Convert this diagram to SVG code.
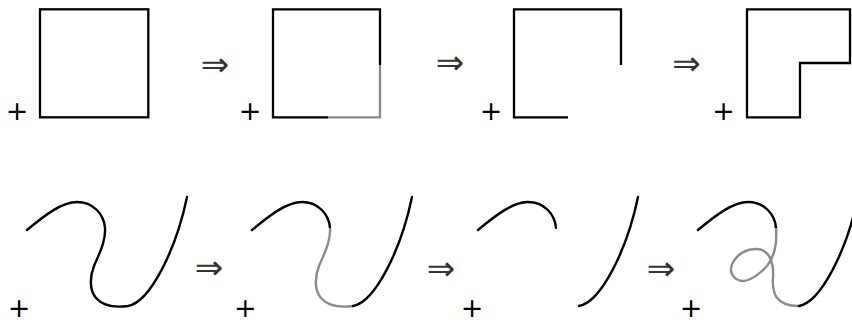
<svg xmlns="http://www.w3.org/2000/svg" width="852" height="322" viewBox="0 0 852 322">
<style>
.k{fill:none;stroke:#000;stroke-width:2.3;stroke-linecap:butt;stroke-linejoin:miter}
.g{fill:none;stroke:#8a8a8a;stroke-width:2.3;stroke-linecap:butt;stroke-linejoin:miter}
.c{fill:none;stroke:#000;stroke-width:2.4;stroke-linecap:round}
.cg{fill:none;stroke:#8a8a8a;stroke-width:2.4;stroke-linecap:butt}
.p{font-family:"DejaVu Sans",sans-serif;font-size:27px;fill:#000;text-anchor:middle}
.a{font-family:"DejaVu Sans",sans-serif;font-size:34px;fill:#333;text-anchor:middle}
</style>
<rect width="852" height="322" fill="#fff"/>
<g id="top1">
<rect class="k" x="40" y="9.3" width="108.3" height="108"/>
<text class="p" x="17" y="120">+</text>
</g>
<g id="top2">
<path class="k" d="M328,117.3 H273 V9.3 H380 V65"/>
<path class="g" d="M380,65 V117.3 H328"/>
<text class="p" x="250" y="120">+</text>
</g>
<g id="top3">
<path class="k" d="M568,117.3 H514 V9.3 H621 V65"/>
<text class="p" x="491" y="120">+</text>
</g>
<g id="top4">
<path class="k" d="M747,9.3 H850 V63 H800 V117.3 H747 Z"/>
<text class="p" x="723.5" y="120">+</text>
</g>
<g id="bot1">
<path class="c" d="M27,230 C45,215 62,202 77,202 C93,202 104,214 105,228 C106,242 98,256 94,266 C90,276 89,290 96,298 C103,306 113,308 128,306 C150,302 176,250 187,197"/>
<text class="p" x="19" y="317">+</text>
</g>
<g id="bot2" transform="translate(225,0)">
<path class="c" d="M27,230 C45,215 62,202 77,202 C93,202 104,214 105,228"/>
<path class="cg" d="M105,228 C106,242 98,256 94,266 C90,276 89,290 96,298 C103,306 113,308 128,306"/>
<path class="c" d="M128,306 C150,302 176,250 187,197"/>
<text class="p" x="20.3" y="317">+</text>
</g>
<g id="bot3" transform="translate(451,0)">
<path class="c" d="M27,230 C45,215 62,202 77,202 C93,202 104,214 105,228"/>
<path class="c" d="M128,306 C150,302 176,250 187,197"/>
<text class="p" x="21" y="317">+</text>
</g>
<g id="bot4" transform="translate(671,0)">
<path class="c" d="M27,230 C45,215 62,202 77,202 C93,202 104,214 105,228"/>
<path class="cg" d="M105,228 C106,242 104,256 96,266 C87,276 72,287 63,277 C54,268 66,250 84,249 C98,248 103,262 102,278 C101,292 104,306 128,306"/>
<path class="c" d="M128,306 C150,302 176,250 187,197"/>
<text class="p" x="20" y="317">+</text>
</g>
<g id="arrows">
<text class="a" x="215" y="76">⇒</text>
<text class="a" x="450" y="74">⇒</text>
<text class="a" x="686.5" y="75">⇒</text>
<text class="a" x="209" y="279">⇒</text>
<text class="a" x="441" y="280">⇒</text>
<text class="a" x="661" y="280">⇒</text>
</g>
</svg>
